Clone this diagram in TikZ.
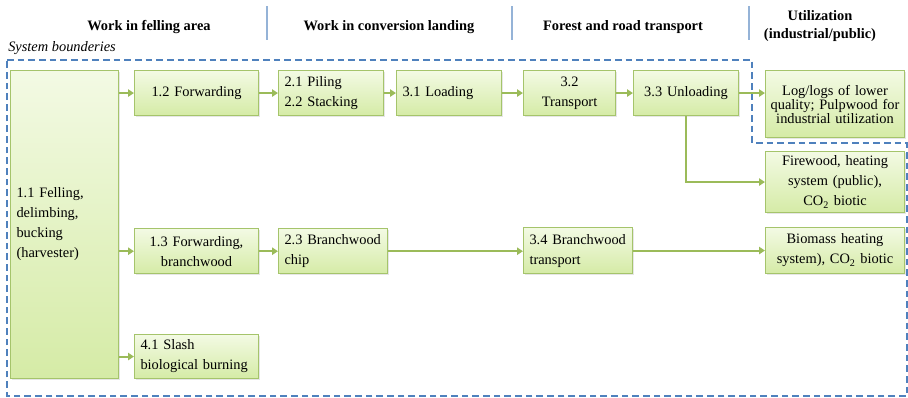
\documentclass[tikz,border=0pt]{standalone}
\usepackage{fontspec}
\setmainfont{Liberation Serif}
\usetikzlibrary{shadows,arrows.meta}
\definecolor{boxline}{HTML}{A5C46B}
\definecolor{boxtop}{HTML}{F3FAE4}
\definecolor{boxbot}{HTML}{D5EBA6}
\definecolor{flow}{HTML}{9BBB59}
\definecolor{bound}{HTML}{4F81BD}
\definecolor{sepline}{HTML}{95B3D7}

\begin{document}
\begin{tikzpicture}[x=0.75pt,y=-0.75pt,
	font=\fontsize{10.8}{15}\selectfont,
	proc/.style={draw=boxline,line width=0.8pt,top color=boxtop,bottom color=boxbot,anchor=north west,
		inner xsep=4.5pt,inner ysep=1pt,drop shadow={shadow xshift=1pt,shadow yshift=-1pt,opacity=0.2}},
	flowarr/.style={draw=flow,line width=1.5pt,-{Triangle[length=4.5pt,width=5.5pt]}},
	head/.style={font=\fontsize{10.8}{13.5}\selectfont\bfseries,align=center}]
	\useasboundingbox (0,0) rectangle (908,397);
	% column heads
	\node[head] (hfell) at (149,27) {Work in felling area};
	\node[head] (hconv) at (389,27) {Work in conversion landing};
	\node[head] (htrans) at (623,27) {Forest and road transport};
	\node[head] (hutil) at (820,26) {Utilization\\(industrial/public)};
	\draw[sepline,line width=0.8pt] (267,6) -- (267,40);
	\draw[sepline,line width=0.8pt] (512,6) -- (512,40);
	\draw[sepline,line width=0.8pt] (749,6) -- (749,40);
	% system boundary
	\node[anchor=west,font=\fontsize{10.8}{13}\selectfont\itshape,inner sep=0pt] (sysb) at (8,48) {System bounderies};
	\draw[bound,line width=1.2pt,dash pattern=on 5pt off 3pt] (7,60) -- (752,60) -- (752,143) -- (907,143) -- (907,396) -- (7,396) -- cycle;
	% processes
	\node[proc,text width=72pt,minimum height=231pt,align=left] (b11) at (10,70) {1.1 Felling,\\delimbing,\\bucking\\(harvester)};
	\node[proc,text width=84pt,minimum height=33.75pt,align=center] (b12) at (134,70) {1.2 Forwarding};
	\node[proc,text width=69.75pt,minimum height=33.75pt,align=left] (b21) at (278,70) {2.1 Piling\\2.2 Stacking};
	\node[proc,text width=69.75pt,minimum height=33.75pt,align=left] (b31) at (396,70) {3.1 Loading};
	\node[proc,text width=60pt,minimum height=33.75pt,align=center] (b32) at (523,70) {3.2\\Transport};
	\node[proc,text width=69.75pt,minimum height=33.75pt,align=center] (b33) at (633,70) {3.3 Unloading};
	\node[proc,text width=100.25pt,inner xsep=2pt,minimum height=50.25pt,align=center,font=\fontsize{10.8}{10.5}\selectfont] (blog) at (765,70) {Log/logs of lower\\quality; Pulpwood for\\industrial utilization};
	\node[proc,text width=95.25pt,minimum height=45.75pt,align=center] (bfire) at (765,151) {Firewood, heating\\system (public),\\CO\textsubscript{2} biotic};
	\node[proc,text width=84pt,minimum height=34pt,align=center] (b13) at (134,228) {1.3 Forwarding,\\branchwood};
	\node[proc,text width=72.75pt,minimum height=34pt,align=left] (b23) at (278,228) {2.3 Branchwood\\chip};
	\node[proc,text width=72.75pt,minimum height=34.5pt,align=left] (b34) at (523,227) {3.4 Branchwood\\transport};
	\node[proc,text width=95.25pt,minimum height=34.5pt,align=center] (bbio) at (765,227) {Biomass heating\\system), CO\textsubscript{2} biotic};
	\node[proc,text width=84pt,minimum height=33pt,align=left] (b41) at (134,334) {4.1 Slash\\biological burning};
	% flows
	\draw[flowarr] (b12.west -| b11.east) -- (b12.west);
	\draw[flowarr] (b13.west -| b11.east) -- (b13.west);
	\draw[flowarr] (b41.west -| b11.east) -- (b41.west);
	\draw[flowarr] (b12) -- (b21);
	\draw[flowarr] (b21) -- (b31);
	\draw[flowarr] (b31) -- (b32);
	\draw[flowarr] (b32) -- (b33);
	\draw[flowarr] (b33.east) -- (b33.east -| blog.west);
	\draw[flowarr] (b33.south) |- (bfire.west);
	\draw[flowarr] (b13) -- (b23);
	\draw[flowarr] (b23.east) -- (b23.east -| b34.west);
	\draw[flowarr] (b34.east) -- (b34.east -| bbio.west);
\end{tikzpicture}
\end{document}
